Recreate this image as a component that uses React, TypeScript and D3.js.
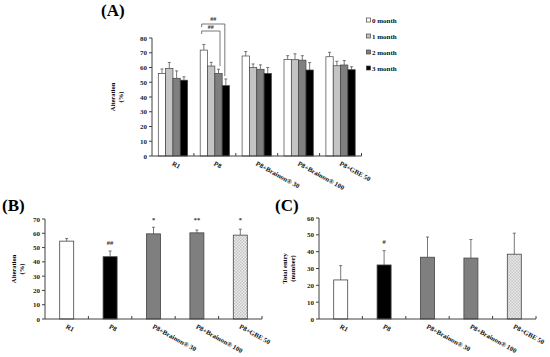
import React from "react";
import * as d3 from "d3";

const categories = ["R1", "P8", "P8+Brainon® 30", "P8+Brainon® 100", "P8+GBE 50"];
const months = ["0 month", "1 month", "2 month", "3 month"];
const monthColors = ["#ffffff", "#c4c4c4", "#7f7f7f", "#000000"];

// Panel A: alteration per month
const a0 = [56, 71.8, 67.8, 65.5, 67.3];
const a1 = [59.4, 61, 59.9, 65.3, 61.2];
const a2 = [52.7, 56, 58.8, 65, 61.7];
const a3 = [51.4, 47.7, 56, 58.3, 58.5];
const ae0 = [3, 3.8, 3, 2.5, 3];
const ae1 = [4, 2.5, 2.5, 4, 3];
const ae2 = [5, 2.8, 3, 3, 3];
const ae3 = [2.3, 4.5, 4, 5, 2];
const aTicks = [0, 10, 20, 30, 40, 50, 60, 70, 80];

// Panel B: alteration
const bValues = [54.5, 43.6, 59.6, 60.3, 58.7];
const bErrors = [1.8, 4, 4.6, 2, 4.2];
const bSig = ["", "##", "*", "**", "*"];
const bSigLevel = [0, 53.5, 69.5, 69.5, 69.5];
const bTicks = [0, 10, 20, 30, 40, 50, 60, 70];

// Panel C: total entry
const cValues = [23.2, 32.1, 36.7, 36.2, 38.5];
const cErrors = [8.5, 8.5, 12, 11, 12.5];
const cSig = ["", "#", "", "", ""];
const cSigLevel = [0, 45.5, 0, 0, 0];
const cTicks = [0, 10, 20, 30, 40, 50, 60];

const barFillsBC = ["#ffffff", "#000000", "#7f7f7f", "#7f7f7f", "url(#checker)"];

const FONT = "'Liberation Serif', 'Times New Roman', serif";
const AX = "#404040";

function YAxis({ x, y, ticks }: { x: number; y: d3.ScaleLinear<number, number>; ticks: number[] }) {
  const [y0, y1] = y.range();
  return (
    <g>
      <line x1={x} x2={x} y1={y0} y2={y1} stroke={AX} strokeWidth={1} />
      {ticks.map((t) => (
        <g key={t}>
          <line x1={x - 3} x2={x} y1={y(t)} y2={y(t)} stroke={AX} strokeWidth={1} />
          <text x={x - 5} y={y(t) + 2.5} fontSize={7} fontWeight="bold" textAnchor="end" fontFamily={FONT} fill="#222">
            {t}
          </text>
        </g>
      ))}
    </g>
  );
}

function XAxis({ xs, y0 }: { xs: d3.ScaleBand<string>; y0: number }) {
  const [r0, r1] = xs.range();
  const bw = xs.step();
  return (
    <g>
      <line x1={r0} x2={r1} y1={y0} y2={y0} stroke={AX} strokeWidth={1} />
      {categories.map((c, i) => (
        <line key={"t" + i} x1={r0 + bw * (i + 1)} x2={r0 + bw * (i + 1)} y1={y0} y2={y0 - 3} stroke={AX} strokeWidth={1} />
      ))}
      {categories.map((c) => {
        const cx = (xs(c) as number) + bw / 2 - 1.5;
        const cy = y0 + 9;
        return (
          <text
            key={c}
            x={cx}
            y={cy}
            fontSize={6.8}
            fontWeight="bold"
            fontFamily={FONT}
            fill="#111"
            transform={`rotate(29 ${cx} ${cy})`}
          >
            {c}
          </text>
        );
      })}
    </g>
  );
}

function ErrBar({ x, yTop, yBar }: { x: number; yTop: number; yBar: number }) {
  return (
    <g stroke="#555" strokeWidth={0.8}>
      <line x1={x} x2={x} y1={yBar} y2={yTop} />
      <line x1={x - 1.5} x2={x + 1.5} y1={yTop} y2={yTop} />
    </g>
  );
}

function PanelA() {
  const y = d3.scaleLinear().domain([0, 80]).range([156, 38]);
  const xs = d3.scaleBand<string>().domain(categories).range([152, 361.5]);
  const series = [a0, a1, a2, a3];
  const errs = [ae0, ae1, ae2, ae3];
  const inner = d3.scaleBand<number>().domain([0, 1, 2, 3]).range([0, 29.3]);
  const clusterOff = (xs.step() - 29.3) / 2;
  const bx = (ci: number, si: number) => (xs(categories[ci]) as number) + clusterOff + (inner(si) as number);
  const bw = inner.bandwidth();
  const p8 = 1;
  const leftX = bx(p8, 0) + 1.5;
  const r3 = bx(p8, 3) + bw / 2 - 1;
  const r2 = bx(p8, 2) + bw / 2 + 1.5;
  const upperY = 24;
  const lowerY = 31;
  return (
    <g>
      <text x={101} y={16} fontSize={17} fontWeight="bold" fontFamily={FONT}>(A)</text>
      <g transform="translate(115,97) rotate(-90)">
        <text x={0} y={0} fontSize={6.5} fontWeight="bold" textAnchor="middle" fontFamily={FONT}>Alteration</text>
        <text x={0} y={8} fontSize={6.5} fontWeight="bold" textAnchor="middle" fontFamily={FONT}>(%)</text>
      </g>
      {series.map((vals, si) =>
        vals.map((v, ci) => (
          <g key={si + "-" + ci}>
            <ErrBar x={bx(ci, si) + bw / 2} yTop={y(v + errs[si][ci])} yBar={y(v)} />
            <rect x={bx(ci, si)} y={y(v)} width={bw} height={y(0) - y(v)} fill={monthColors[si]} stroke="#444" strokeWidth={0.7} />
          </g>
        ))
      )}
      <YAxis x={152} y={y} ticks={aTicks} />
      <XAxis xs={xs} y0={156} />
      <g stroke="#555" strokeWidth={0.8} fill="none">
        <polyline points={`${leftX},${upperY + 3} ${leftX},${upperY} ${r3},${upperY} ${r3},${y(a3[p8] + ae3[p8]) - 3}`} />
        <polyline points={`${leftX},${lowerY + 3} ${leftX},${lowerY} ${r2},${lowerY} ${r2},${y(a2[p8] + ae2[p8]) - 3}`} />
      </g>
      <text x={(leftX + r3) / 2} y={20.5} fontSize={6} fontWeight="bold" textAnchor="middle" fontFamily={FONT} fill="#333">##</text>
      <text x={(leftX + r2) / 2} y={29} fontSize={6} fontWeight="bold" textAnchor="middle" fontFamily={FONT} fill="#333">##</text>
      {months.map((m, i) => (
        <g key={m}>
          <rect x={366.5} y={18 + i * 16} width={4} height={4} fill={monthColors[i]} stroke="#444" strokeWidth={0.7} />
          <text x={372} y={22.5 + i * 16} fontSize={7} fontWeight="bold" fontFamily={FONT} fill="#111">{m}</text>
        </g>
      ))}
    </g>
  );
}

function PanelBC({
  label, lx, ly, axisX, axisEnd, yMax, yTop, ticks, values, errors, sig, sigLevel, ylab1, ylab2, ylabX,
}: {
  label: string; lx: number; ly: number; axisX: number; axisEnd: number; yMax: number; yTop: number;
  ticks: number[]; values: number[]; errors: number[]; sig: string[]; sigLevel: number[];
  ylab1: string; ylab2: string; ylabX: number;
}) {
  const y0 = 319;
  const y = d3.scaleLinear().domain([0, yMax]).range([y0, yTop]);
  const xs = d3.scaleBand<string>().domain(categories).range([axisX, axisEnd]);
  const bw = 14;
  return (
    <g>
      <text x={lx} y={ly} fontSize={17} fontWeight="bold" fontFamily={FONT}>{label}</text>
      <g transform={`translate(${ylabX},${(y0 + yTop) / 2}) rotate(-90)`}>
        <text x={0} y={0} fontSize={6.5} fontWeight="bold" textAnchor="middle" fontFamily={FONT}>{ylab1}</text>
        <text x={0} y={8} fontSize={6.5} fontWeight="bold" textAnchor="middle" fontFamily={FONT}>{ylab2}</text>
      </g>
      {values.map((v, i) => {
        const cx = (xs(categories[i]) as number) + xs.step() / 2;
        return (
          <g key={i}>
            <ErrBar x={cx} yTop={y(v + errors[i])} yBar={y(v)} />
            <rect x={cx - bw / 2} y={y(v)} width={bw} height={y0 - y(v)} fill={barFillsBC[i]} stroke="#444" strokeWidth={0.8} />
            {sig[i] && (
              <text x={cx} y={y(sigLevel[i]) + 2} fontSize={6.5} fontWeight="bold" textAnchor="middle" fontFamily={FONT} fill="#333">
                {sig[i]}
              </text>
            )}
          </g>
        );
      })}
      <YAxis x={axisX} y={y} ticks={ticks} />
      <XAxis xs={xs} y0={y0} />
    </g>
  );
}

export default function App() {
  return (
    <svg width={550} height={357} style={{ position: "absolute", left: 0, top: 0, background: "#fff" }}>
      <defs>
        <pattern id="checker" width={3} height={3} patternUnits="userSpaceOnUse">
          <rect width={3} height={3} fill="#ececec" />
          <rect width={1.5} height={1.5} fill="#c4c4c4" />
          <rect x={1.5} y={1.5} width={1.5} height={1.5} fill="#c4c4c4" />
        </pattern>
      </defs>
      <rect width={550} height={357} fill="#fff" />
      <PanelA />
      <PanelBC
        label="(B)" lx={2} ly={211} axisX={45} axisEnd={262} yMax={70} yTop={219}
        ticks={bTicks} values={bValues} errors={bErrors} sig={bSig} sigLevel={bSigLevel}
        ylab1="Alteration" ylab2="(%)" ylabX={16}
      />
      <PanelBC
        label="(C)" lx={275} ly={211} axisX={319} axisEnd={536} yMax={60} yTop={218}
        ticks={cTicks} values={cValues} errors={cErrors} sig={cSig} sigLevel={cSigLevel}
        ylab1="Total entry" ylab2="(number)" ylabX={287}
      />
    </svg>
  );
}
